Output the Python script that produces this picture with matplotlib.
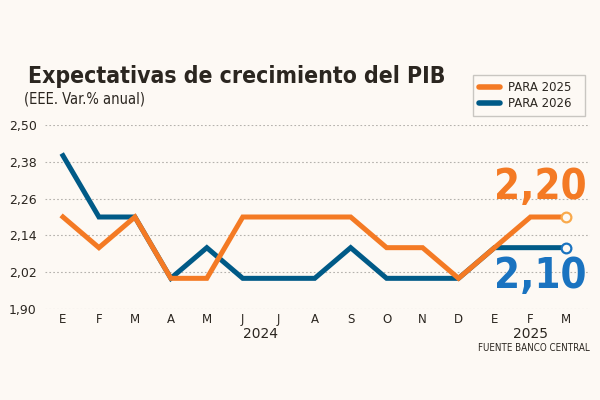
import matplotlib.pyplot as plt

# Data
meses = ['E', 'F', 'M', 'A', 'M', 'J', 'J', 'A', 'S', 'O', 'N', 'D', 'E', 'F', 'M']
para_2025 = [2.20, 2.10, 2.20, 2.00, 2.00, 2.20, 2.20, 2.20, 2.20, 2.10, 2.10, 2.00, 2.10, 2.20, 2.20]
para_2026 = [2.40, 2.20, 2.20, 2.00, 2.10, 2.00, 2.00, 2.00, 2.10, 2.00, 2.00, 2.00, 2.10, 2.10, 2.10]
y_ticks = [1.90, 2.02, 2.14, 2.26, 2.38, 2.50]

BG = '#fdf9f4'
ORANGE = '#f47a24'
BLUE = '#005a87'
TEXT = '#2b2620'

fig = plt.figure(figsize=(6, 4), dpi=100, facecolor=BG)
ax = fig.add_axes([0.075, 0.2275, 0.908, 0.46])
ax.set_facecolor(BG)

x = list(range(len(meses)))
ax.plot(x, para_2026, color=BLUE, lw=3.6, solid_joinstyle='miter', zorder=3, label='PARA 2026')
ax.plot(x, para_2025, color=ORANGE, lw=3.6, solid_joinstyle='miter', zorder=4, label='PARA 2025')
ax.plot(x[-1], para_2025[-1], 'o', ms=7, mfc=BG, mec='#f9a94b', mew=1.6, zorder=5)
ax.plot(x[-1], para_2026[-1], 'o', ms=7, mfc=BG, mec='#1a73c0', mew=1.6, zorder=5)

ax.set_xlim(-0.5, 14.65)
ax.set_ylim(1.90, 2.50)
ax.set_yticks(y_ticks)
ax.set_yticklabels([f'{v:.2f}'.replace('.', ',') for v in y_ticks], fontsize=9, color=TEXT)
ax.set_xticks(x)
ax.set_xticklabels(meses, fontsize=8.5, color=TEXT)
ax.tick_params(length=0, pad=3)
ax.tick_params(axis='y', pad=6)
for s in ax.spines.values():
    s.set_visible(False)
ax.yaxis.grid(True, linestyle=(0, (1.5, 2)), color='#b5b2ad', lw=0.8)
ax.set_axisbelow(True)

# year labels
ax.text(5.5, -0.1, '2024', transform=ax.get_xaxis_transform(), ha='center', va='top', fontsize=10, color=TEXT)
ax.text(13, -0.1, '2025', transform=ax.get_xaxis_transform(), ha='center', va='top', fontsize=10, color=TEXT)
fig.text(0.983, 0.13, 'FUENTE BANCO CENTRAL', ha='right', va='center', fontsize=7, color=TEXT,
         fontstretch='condensed')

# big value labels
ax.text(14.55, 2.228, '2,20', ha='right', va='bottom', fontsize=30, fontweight='bold', color=ORANGE,
        fontstretch='condensed')
ax.text(14.55, 2.075, '2,10', ha='right', va='top', fontsize=30, fontweight='bold', color='#1a73c0',
        fontstretch='condensed')

# title
fig.text(0.047, 0.81, 'Expectativas de crecimiento del PIB', ha='left', va='center', fontsize=16.5,
         fontweight='bold', color=TEXT, fontstretch='condensed')
fig.text(0.04, 0.752, '(EEE. Var.% anual)', ha='left', va='center', fontsize=10.5, color=TEXT,
         fontstretch='condensed')

handles, labels = ax.get_legend_handles_labels()
leg = fig.legend(handles[::-1], labels[::-1], loc='upper right', bbox_to_anchor=(0.975, 0.8125), fontsize=8.5,
                 frameon=True, fancybox=False, edgecolor='#bdbab5', facecolor=BG, handlelength=1.8,
                 borderpad=0.5, labelspacing=0.3, handletextpad=0.7, borderaxespad=0)
leg.get_frame().set_linewidth(1.0)
for t in leg.get_texts():
    t.set_color(TEXT)
    t.set_text(t.get_text() + '  ')
for h in leg.get_lines():
    h.set_solid_capstyle('round')
    h.set_linewidth(4)

fig.savefig('out.png', dpi=100, facecolor=BG)
